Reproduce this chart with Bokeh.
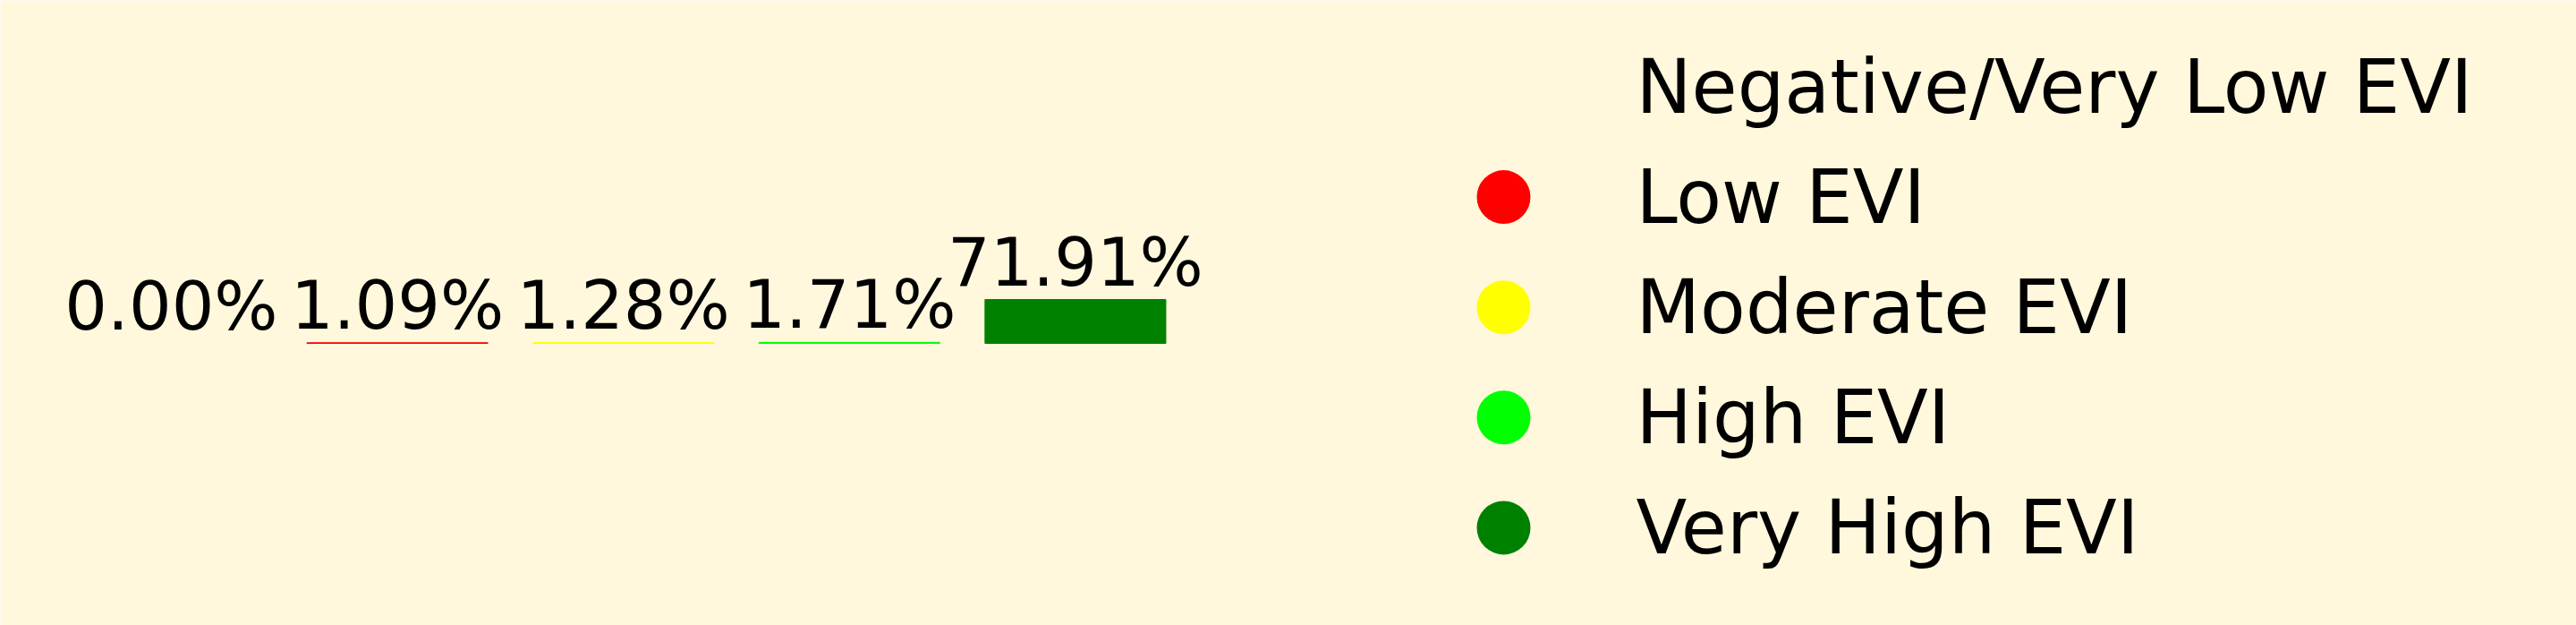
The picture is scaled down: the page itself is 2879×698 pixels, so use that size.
from bokeh.plotting import figure
from bokeh.models import Range1d, ColumnDataSource
from bokeh.embed import file_html
from bokeh.resources import INLINE
from bokeh.core.properties import value

# ---- data ----
categories = ["Negative/Very Low EVI", "Low EVI", "Moderate EVI", "High EVI", "Very High EVI"]
percentages = [0.00, 1.09, 1.28, 1.71, 71.91]
colors = ["#FFF8DC", "#FF0000", "#FFFF00", "#00FF00", "#008000"]
marker_alpha = [0.0, 1.0, 1.0, 1.0, 1.0]

BG = "#FFF8DC"
FONT = "DejaVu Sans"
W, H = 2879, 698

idx = list(range(len(categories)))
labels = [f"{v:.2f}%" for v in percentages]

# bar scale
sp = 252.6
x0_px = 191.0
ppu = 49.0 / 71.91
base_top = 383.0            # bar baseline, px from top
base_px = H - base_top

p = figure(width=W, height=H, output_backend="svg", toolbar_location=None,
           x_range=Range1d(-x0_px / sp, (W - x0_px) / sp),
           y_range=Range1d(-base_px / ppu, (H - base_px) / ppu),
           background_fill_color=BG, border_fill_color=BG,
           min_border=0, outline_line_color=None)
p.axis.visible = False
p.grid.visible = False

src = ColumnDataSource(dict(x=idx, top=percentages, color=colors, label=labels,
                            cat=categories, alpha=marker_alpha))

p.vbar(x="x", top="top", bottom=0, width=0.8, fill_color="color", line_color="color",
       line_width=1, source=src)
p.text(x="x", y="top", text="label", source=src, text_align="center",
       text_baseline="alphabetic", y_offset=-42,
       text_font=value(FONT), text_font_size="75px", text_color="black")

# ---- legend (drawn manually) ----
row_top = 96.5
row_sp = 123.1
p.extra_x_ranges = {"lx": Range1d(0, W)}
p.extra_y_ranges = {"ly": Range1d(-(H - row_top) / row_sp, row_top / row_sp)}
lsrc = ColumnDataSource(dict(y=[-i for i in idx], color=colors, alpha=marker_alpha, cat=categories,
                             mx=[1680] * len(idx), tx=[1828] * len(idx)))
p.scatter(x="mx", y="y", size=60, marker="circle", fill_color="color", fill_alpha="alpha",
          line_color=None, source=lsrc, x_range_name="lx", y_range_name="ly")
p.text(x="tx", y="y", text="cat", source=lsrc, text_align="left", text_baseline="alphabetic",
       y_offset=0, text_font=value(FONT), text_font_size="83px", text_color="black",
       x_range_name="lx", y_range_name="ly")

open("out.html", "w").write(file_html(p, INLINE))
